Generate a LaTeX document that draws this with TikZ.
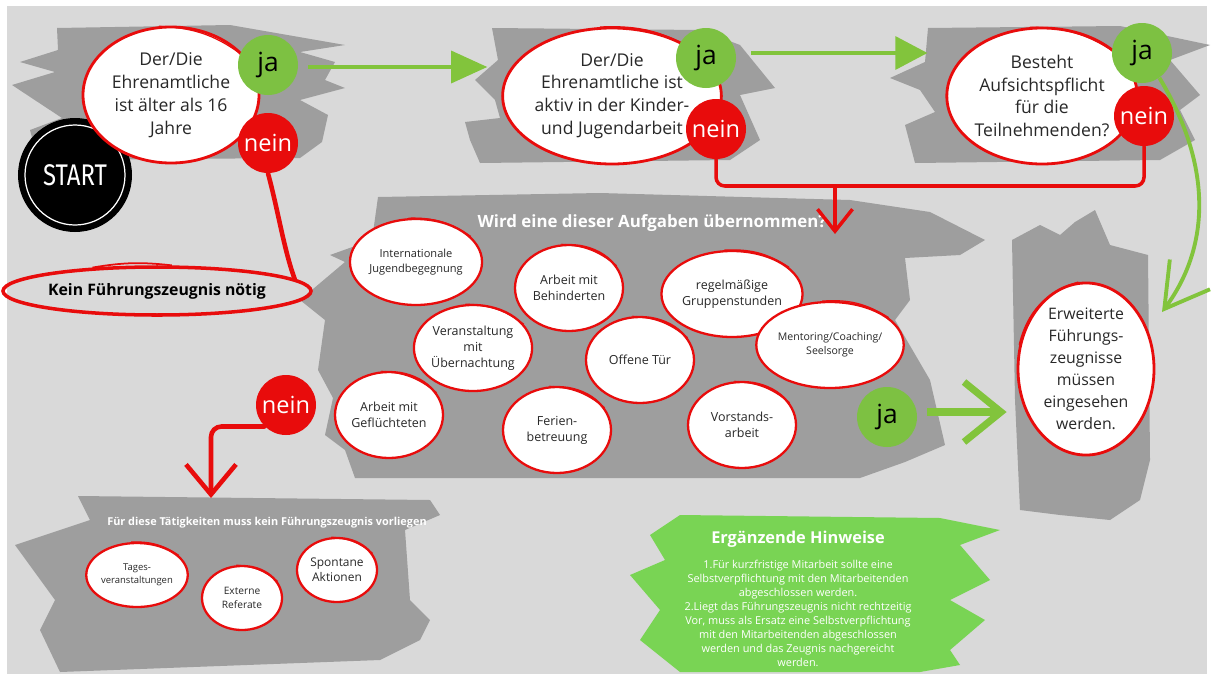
\documentclass[tikz,border=0pt]{standalone}
\usepackage{fontspec}
\setmainfont{Open Sans}
\newfontfamily\startfont{Fira Sans}
\usetikzlibrary{arrows.meta,shapes.geometric,positioning,calc}

\definecolor{bggray}{RGB}{217,217,217}
\definecolor{brushgray}{RGB}{158,158,158}
\definecolor{jagreen}{RGB}{125,193,66}
\definecolor{neinred}{RGB}{232,12,12}
\definecolor{arrowgreen}{RGB}{130,196,60}
\definecolor{notegreen}{RGB}{121,212,84}
\definecolor{textgray}{RGB}{40,40,40}

\tikzset{
  brush/.style={fill=brushgray},
  frage/.style={ellipse,draw=neinred,line width=1.6pt,fill=white,minimum width=35.2mm,
    minimum height=27.2mm,inner sep=0pt,align=center,text=textgray,font=\fontsize{10}{13}\selectfont},
  task/.style={ellipse,draw=neinred,line width=1.3pt,fill=white,minimum width=21.6mm,
    minimum height=17.2mm,inner sep=0pt,align=center,text=textgray,font=\fontsize{7.1}{9.2}\selectfont},
  mini/.style={task,minimum width=16mm,minimum height=12.8mm,font=\fontsize{5.6}{7}\selectfont},
  ja/.style={circle,fill=jagreen,minimum size=12mm,inner sep=0pt,font=\fontsize{15}{15}\selectfont},
  nein/.style={circle,fill=neinred,minimum size=12mm,inner sep=0pt,text=white,font=\fontsize{13.4}{14}\selectfont},
  redline/.style={draw=neinred,line width=2pt,line cap=round},
  greenline/.style={draw=arrowgreen,line width=1.8pt},
  weiss/.style={text=white,font=\bfseries\fontsize{#1}{#1}\selectfont}
}
\newcommand\swoosh[1]{\draw[neinred,line width=0.7pt] (#1.100) to[bend left=18] (#1.25);}

\begin{document}
\begin{tikzpicture}[x=0.2mm,y=-0.2mm]
\useasboundingbox (0,0) rectangle (1213,679);
\fill[white] (0,0) rectangle (1213,679);
\fill[bggray] (7,6) rectangle (1207,674);

% pinselstriche
\fill[brush] (57,28) -- (230,25) -- (345,45) -- (300,52) -- (335,62) -- (325,80) -- (345,88) -- (300,100)
  -- (328,115) -- (322,142) -- (300,158) -- (38,160) -- (30,130) -- (62,118) -- (12,85) -- (55,72)
  -- (20,62) -- (58,50) -- cycle;
\fill[brush] (492,28) -- (700,30) -- (740,45) -- (775,88) -- (740,95) -- (760,140) -- (730,160)
  -- (480,163) -- (470,140) -- (465,122) -- (500,118) -- (495,100) -- (475,80) -- (498,60) -- cycle;
\fill[brush] (928,28) -- (1120,26) -- (1210,45) -- (1170,60) -- (1200,95) -- (1180,110) -- (1195,140)
  -- (1160,160) -- (915,163) -- (905,125) -- (935,112) -- (920,90) -- (890,78) -- (925,62) -- cycle;
\fill[brush] (378,197) -- (600,193) -- (850,200) -- (930,212) -- (985,240) -- (960,255) -- (905,258)
  -- (910,300) -- (895,320) -- (930,380) -- (945,445) -- (905,462) -- (860,478) -- (355,478)
  -- (345,450) -- (325,435) -- (333,398) -- (318,370) -- (325,320) -- (300,300) -- (345,262)
  -- (330,255) -- (372,240) -- cycle;
\fill[brush] (1012,240) -- (1040,225) -- (1060,235) -- (1075,222) -- (1095,210) -- (1110,245)
  -- (1148,255) -- (1150,460) -- (1140,500) -- (1110,520) -- (1060,515) -- (1020,510) -- (1015,400) -- cycle;
\fill[brush] (78,496) -- (430,500) -- (440,515) -- (405,530) -- (410,600) -- (430,620) -- (420,640)
  -- (380,660) -- (60,672) -- (40,630) -- (55,600) -- (15,545) -- (60,530) -- (90,520) -- cycle;
\fill[notegreen] (680,515) -- (940,518) -- (1000,530) -- (960,545) -- (990,580) -- (950,600)
  -- (985,620) -- (950,650) -- (960,665) -- (920,672) -- (680,672) -- (640,640) -- (660,610)
  -- (630,575) -- (665,560) -- (650,535) -- cycle;

% start
\node[circle,fill=black,minimum size=22.8mm,text=white,font=\startfont\fontsize{17}{17}\selectfont] (start) at (75,175) {\scalebox{0.8}[1]{START}};
\node[circle,draw=white,line width=0.7pt,minimum size=20mm] (startring) at (start) {};

% fragen
\node[frage] (q1) at (171,95) {Der/Die\\Ehrenamtliche\\ist älter als 16\\Jahre};
\node[frage] (q2) at (612,96) {Der/Die\\Ehrenamtliche ist\\aktiv in der Kinder-\\und Jugendarbeit};
\node[frage] (q3) at (1042,96) {Besteht\\Aufsichtspflicht\\für die\\Teilnehmenden?};
\swoosh{q1}\swoosh{q2}\swoosh{q3}

\node[ja] (ja1) at (268,65) {ja};
\node[nein] (nein1) at (268,143) {nein};
\node[ja] (ja2) at (706,58) {ja};
\node[nein] (nein2) at (716,129) {nein};
\node[ja] (ja3) at (1142,53) {ja};
\node[nein] (nein3) at (1144,116) {nein};

\node[ellipse,draw=neinred,line width=2pt,minimum width=54.8mm,minimum height=9.6mm,inner sep=0pt,
  font=\bfseries\fontsize{9}{9}\selectfont] (kein) at (157,291) {Kein Führungszeugnis nötig};
\draw[neinred,line width=1pt] (kein.160) to[bend left=8] (kein.60);

% aufgaben
\node[weiss=9.6] (aufgaben) at (652,223) {Wird eine dieser Aufgaben übernommen?};
\node[task,font=\fontsize{6.3}{8.6}\selectfont] (intl) at (416,262) {Internationale\\Jugendbegegnung};
\node[task] (behind) at (569,288) {Arbeit mit\\Behinderten};
\node[task] (gruppe) at (732,294) {regelmäßige\\Gruppenstunden};
\node[task] (uebern) at (473,348) {Veranstaltung\\mit\\Übernachtung};
\node[task] (offen) at (640,360) {Offene Tür};
\node[task,font=\fontsize{6}{8}\selectfont] (mentor) at (830,345) {Mentoring/Coaching/\\Seelsorge};
\node[task] (gefl) at (389,415) {Arbeit mit\\Geflüchteten};
\node[task] (ferien) at (557,430) {Ferien-\\betreuung};
\node[task] (vorstand) at (742,425) {Vorstands-\\arbeit};
\foreach \t in {intl,behind,gruppe,uebern,offen,mentor,gefl,ferien,vorstand} {\swoosh{\t}}

\node[ja] (ja4) at (887,417) {ja};
\node[nein] (nein4) at (286,405) {nein};

\node[frage,minimum width=27.2mm,minimum height=34mm,font=\fontsize{9}{12.5}\selectfont] (erw) at (1086,369)
  {Erweiterte\\Führungs-\\zeugnisse\\müssen\\eingesehen\\werden.};
\draw[neinred,line width=0.8pt] (erw.160) to[bend left=30] (erw.95);

% ohne zeugnis
\node[weiss=6.2] (keinliste) at (267,523) {Für diese Tätigkeiten muss kein Führungszeugnis vorliegen};
\node[mini,font=\fontsize{5.4}{7.2}\selectfont] (tages) at (137,575) {Tages-\\veranstaltungen};
\node[mini,font=\fontsize{5.8}{7.6}\selectfont] (extern) at (242,598) {Externe\\Referate};
\node[mini,font=\fontsize{6.8}{8.6}\selectfont] (spontan) at (337,570) {Spontane\\Aktionen};
\foreach \t in {tages,extern,spontan} {\swoosh{\t}}

% hinweise
\node[weiss=9.3] (hinweis) at (798,539) {Ergänzende Hinweise};
\node[text=white,align=center,font=\fontsize{6.2}{8}\selectfont,below=0.1mm of hinweis] (hinweistext)
  {1.Für kurzfristige Mitarbeit sollte eine\\Selbstverpflichtung mit den Mitarbeitenden\\abgeschlossen werden.\\
   2.Liegt das Führungszeugnis nicht rechtzeitig\\Vor, muss als Ersatz eine Selbstverpflichtung\\
   mit den Mitarbeitenden abgeschlossen\\werden und das Zeugnis nachgereicht\\werden.};

% verbindungen
\coordinate (merge) at (835,186);
\coordinate (aufgabenin) at (835,234);
\coordinate (keinin) at (211,498);
\coordinate (ja3end) at (1162,312);
\draw[greenline,-{Triangle[length=7.2mm,width=6.4mm]}] ($(ja1.east)+(10,2)$) -- ($(q2.west |- ja1)+(-14,2)$);
\draw[greenline,-{Triangle[length=6.4mm,width=6.6mm]}] ($(ja2.east)+(15,-5)$) -- ($(q3.west |- ja2)+(-18,-5)$);
\draw[greenline,line width=2.2pt,-{Straight Barb[length=8.6mm,width=10mm]}] (ja3.-55)
  .. controls (1215,170) and (1208,250) .. (ja3end);
\draw[greenline,line width=4pt,-{Straight Barb[length=7.4mm,width=12mm]}] ($(ja4.east)+(10,-5)$)
  -- ($(ja4.east -| erw.west)+(-10,-5)$);
\draw[redline,line width=2.6pt] (nein1.south) .. controls (278,210) and (284,250) .. (kein.5);
\draw[redline,rounded corners=5pt] (nein2.south) -- (nein2.south |- merge) -- (nein3.south |- merge) -- (nein3.south);
\draw[redline,-{Straight Barb[length=4.4mm,width=7mm]}] (merge) -- (aufgabenin);
\draw[redline,line width=2.6pt,rounded corners=6pt,-{Straight Barb[length=6mm,width=10mm]}] (nein4.225) -| (keinin);
\end{tikzpicture}
\end{document}
